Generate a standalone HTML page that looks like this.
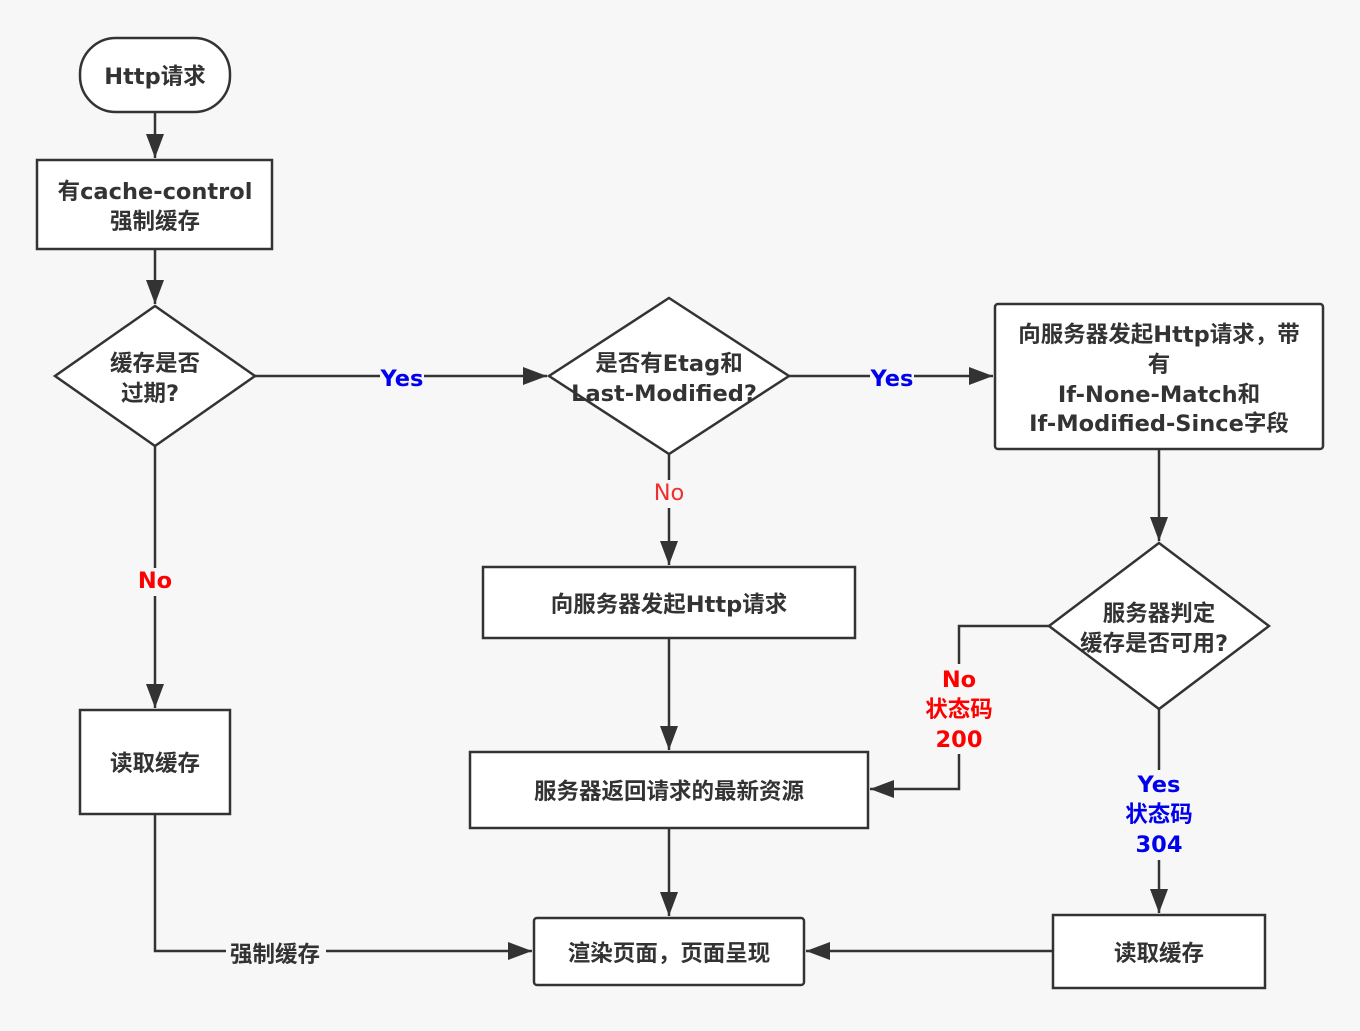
<!DOCTYPE html>
<html><head><meta charset="utf-8"><style>
html,body{margin:0;padding:0;background:#f7f7f7;}
svg text{font-family:"DejaVu Sans","Noto Sans CJK SC",sans-serif;font-weight:bold;font-size:22.5px;fill:#333;text-anchor:middle;dominant-baseline:central;}
</style></head><body>
<svg width="1360" height="1026" viewBox="0 0 1360 1026" xmlns="http://www.w3.org/2000/svg">
<defs>
<marker id="b" markerWidth="24" markerHeight="18" refX="24" refY="9" orient="auto" markerUnits="userSpaceOnUse"><path d="M0,0 L24,9 L0,18 z" fill="#333"/></marker></defs>
<rect width="1360" height="1026" fill="#f7f7f7"/>
<g stroke="#333" stroke-width="2.5" fill="none">
<path d="M155,112 V158" marker-end="url(#b)"/>
<path d="M155,249 V304" marker-end="url(#b)"/>
<path d="M255,376 H547" marker-end="url(#b)"/>
<path d="M789,376 H993" marker-end="url(#b)"/>
<path d="M669,454 V565" marker-end="url(#b)"/>
<path d="M155,446 V708" marker-end="url(#b)"/>
<path d="M155,814 V951 H532" marker-end="url(#b)"/>
<path d="M669,638 V750" marker-end="url(#b)"/>
<path d="M669,828 V916" marker-end="url(#b)"/>
<path d="M1159,449 V541" marker-end="url(#b)"/>
<path d="M1049,626 H959 V789 H870" marker-end="url(#b)"/>
<path d="M1159,709 V913" marker-end="url(#b)"/>
<path d="M1053,951 H806" marker-end="url(#b)"/>
</g>
<g stroke="#333" stroke-width="2.5" fill="#fff">
<rect x="80" y="38" width="150" height="74" rx="36"/>
<rect x="37" y="160" width="235" height="89"/>
<polygon points="155,306 255,376 155,446 55,376"/>
<polygon points="669,298 789,376 669,454 549,376"/>
<rect x="995" y="304" width="328" height="145" rx="3"/>
<polygon points="1159,543 1269,626 1159,709 1049,626"/>
<rect x="483" y="567" width="372" height="71"/>
<rect x="470" y="752" width="398" height="76"/>
<rect x="80" y="710" width="150" height="104"/>
<rect x="534" y="918" width="270" height="67" rx="3"/>
<rect x="1053" y="915" width="212" height="73"/>
</g>
<text x="155" y="77">Http请求</text>
<text x="155" y="192">有cache-control</text><text x="155" y="222">强制缓存</text>
<text x="155" y="364">缓存是否</text><text x="150" y="394">过期?</text>
<text x="669" y="364">是否有Etag和</text><text x="664" y="394">Last-Modified?</text>
<text x="1159" y="335">向服务器发起Http请求，带</text><text x="1159" y="365">有</text>
<text x="1159" y="395">If-None-Match和</text><text x="1159" y="424">If-Modified-Since字段</text>
<text x="1159" y="614">服务器判定</text><text x="1154" y="644">缓存是否可用?</text>
<text x="669" y="605">向服务器发起Http请求</text>
<text x="669" y="792">服务器返回请求的最新资源</text>
<text x="155" y="764">读取缓存</text>
<text x="669" y="954">渲染页面，页面呈现</text>
<text x="1159" y="954">读取缓存</text>
<g fill="#f7f7f7">
<rect x="380" y="366" width="44" height="26"/><rect x="870" y="366" width="44" height="26"/>
<rect x="650" y="480" width="38" height="28"/><rect x="136" y="568" width="38" height="28"/>
<rect x="226" y="940" width="100" height="30"/>
<rect x="922" y="664" width="74" height="90"/><rect x="1122" y="770" width="74" height="90"/>
</g>
<text x="402" y="379" style="fill:#0000ee">Yes</text>
<text x="892" y="379" style="fill:#0000ee">Yes</text>
<text x="669" y="493" style="fill:#f03030;font-weight:normal">No</text>
<text x="155" y="581" style="fill:#f00">No</text>
<text x="275" y="955">强制缓存</text>
<text x="959" y="680" style="fill:#f00">No</text><text x="959" y="710" style="fill:#f00">状态码</text><text x="959" y="740" style="fill:#f00">200</text>
<text x="1159" y="785" style="fill:#0000ee">Yes</text><text x="1159" y="815" style="fill:#0000ee">状态码</text><text x="1159" y="845" style="fill:#0000ee">304</text>
</svg>
</body></html>
